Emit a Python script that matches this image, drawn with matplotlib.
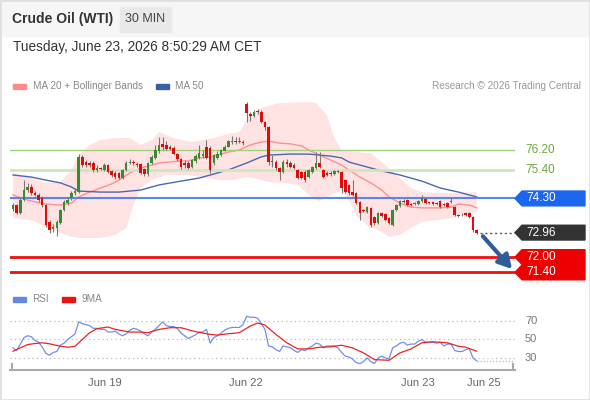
import numpy as np
import matplotlib
matplotlib.use('Agg')
import matplotlib.pyplot as plt
from matplotlib.patches import Rectangle, Polygon
from matplotlib import transforms

plt.rcParams['font.family'] = ['Liberation Sans', 'DejaVu Sans']

# 30 min candles, Crude Oil (WTI)
opens = [73.89, 74.04, 73.73, 74.24, 74.63, 74.75, 74.51, 74.44, 74.30, 74.04,
         73.38, 73.10, 73.14, 73.34, 73.85, 74.12, 74.30, 74.50, 74.55, 75.93,
         75.73, 75.68, 75.69, 75.42, 75.49, 75.42, 75.61, 75.38, 75.30, 75.30,
         75.10, 75.42, 75.69, 75.72, 75.66, 75.65, 75.45, 75.25, 75.69, 75.89,
         76.15, 76.44, 76.40, 76.30, 76.28, 76.04, 75.85, 75.70, 75.70, 75.55,
         75.75, 75.90, 75.95, 76.30, 76.28, 75.70, 75.90, 76.00, 76.18, 76.32,
         76.52, 76.55, 76.52, 76.50, 78.00, 77.60, 77.55, 77.72, 77.69, 77.30,
         77.10, 75.76, 75.73, 75.49, 75.34, 75.73, 75.68, 75.61, 75.42, 75.34,
         75.34, 75.14, 75.34, 75.49, 75.69, 75.42, 75.30, 75.30, 75.26, 75.36,
         75.34, 75.02, 74.83, 74.55, 74.51, 74.16, 73.85, 73.77, 73.93, 73.57,
         73.34, 73.73, 73.69, 73.53, 73.26, 73.85, 74.00, 74.20, 74.24, 74.08,
         74.08, 74.10, 74.20, 74.28, 74.14, 74.16, 74.12, 74.20, 74.08, 74.14,
         74.16, 73.96, 73.67, 73.67, 73.73, 73.73, 73.59, 73.06]
closes = [74.04, 73.73, 74.24, 74.63, 74.75, 74.51, 74.44, 74.24, 74.04, 73.26,
          73.06, 73.20, 73.38, 73.85, 74.16, 74.24, 74.51, 74.60, 75.93, 75.61,
          75.61, 75.62, 75.42, 75.50, 75.45, 75.61, 75.34, 75.22, 75.14, 75.10,
          75.42, 75.69, 75.73, 75.68, 75.60, 75.30, 75.25, 75.69, 75.93, 76.20,
          76.40, 76.30, 76.25, 76.25, 76.04, 75.85, 75.55, 75.60, 75.50, 75.81,
          75.95, 76.10, 76.05, 75.90, 75.42, 76.00, 76.05, 76.20, 76.32, 76.55,
          76.55, 76.52, 76.55, 76.46, 77.65, 77.55, 77.70, 77.68, 77.30, 77.10,
          75.73, 75.72, 75.49, 75.34, 75.73, 75.65, 75.55, 75.50, 75.10, 75.10,
          75.02, 75.42, 75.53, 75.69, 75.55, 75.14, 75.22, 75.25, 75.36, 75.34,
          74.71, 74.55, 74.51, 74.44, 74.12, 73.73, 73.80, 73.96, 73.26, 73.34,
          73.73, 73.63, 73.45, 73.34, 73.85, 74.04, 74.20, 74.18, 74.04, 74.06,
          74.14, 74.20, 74.32, 74.12, 74.12, 74.08, 74.10, 73.96, 74.06, 73.98,
          74.20, 73.65, 73.63, 73.64, 73.66, 73.59, 73.06, 72.96]
highs = [74.12, 74.10, 74.30, 75.02, 74.91, 74.85, 74.60, 74.50, 74.40, 74.10,
         73.45, 73.30, 73.45, 73.90, 74.24, 74.36, 74.60, 74.70, 76.05, 76.00,
         75.81, 75.75, 75.75, 75.60, 75.55, 75.70, 75.65, 75.42, 75.38, 75.35,
         75.45, 75.75, 75.85, 75.80, 75.72, 75.70, 75.50, 75.73, 76.00, 76.40,
         76.71, 76.71, 76.55, 76.40, 76.35, 76.10, 75.90, 75.80, 75.75, 75.85,
         76.05, 76.40, 76.20, 76.60, 76.35, 76.05, 76.15, 76.25, 76.40, 76.60,
         76.75, 76.70, 76.72, 76.60, 78.10, 77.70, 77.75, 77.80, 77.75, 77.35,
         77.15, 76.00, 75.80, 75.55, 75.80, 75.85, 75.75, 75.70, 75.45, 75.38,
         75.40, 75.46, 75.58, 76.12, 76.12, 75.45, 75.36, 75.36, 75.40, 75.42,
         75.38, 75.06, 74.88, 75.02, 74.55, 74.20, 73.90, 74.00, 73.96, 73.60,
         73.76, 73.78, 73.72, 73.56, 73.90, 74.08, 74.24, 74.28, 74.28, 74.12,
         74.18, 74.24, 74.44, 74.32, 74.18, 74.20, 74.16, 74.24, 74.12, 74.18,
         74.32, 74.00, 73.70, 73.72, 73.76, 73.76, 73.62, 73.10]
lows = [73.80, 73.70, 73.70, 74.20, 74.55, 74.45, 74.40, 74.15, 73.95, 73.20,
        72.95, 73.00, 72.83, 73.30, 73.80, 74.05, 74.25, 74.45, 74.50, 75.55,
        75.55, 75.55, 75.35, 75.35, 75.40, 75.38, 75.30, 75.15, 75.08, 75.05,
        75.05, 75.38, 75.65, 75.60, 75.55, 75.25, 75.18, 75.20, 75.65, 75.85,
        76.10, 76.20, 76.20, 76.20, 76.00, 75.78, 75.45, 75.50, 75.45, 75.50,
        75.70, 75.85, 75.90, 75.85, 75.28, 75.60, 75.85, 75.95, 76.15, 76.30,
        76.45, 76.45, 76.48, 76.40, 77.30, 77.35, 77.50, 77.60, 77.25, 77.00,
        75.60, 75.55, 75.40, 75.02, 75.30, 75.55, 75.50, 75.45, 75.05, 75.05,
        74.95, 75.10, 75.30, 75.45, 75.50, 75.10, 75.18, 75.20, 75.22, 75.30,
        74.51, 74.50, 74.45, 74.40, 74.08, 73.45, 73.75, 73.72, 73.20, 73.25,
        73.30, 73.58, 73.40, 73.30, 73.22, 73.80, 73.96, 74.14, 74.00, 74.00,
        74.04, 74.06, 74.16, 74.08, 74.08, 74.04, 74.06, 73.92, 74.02, 73.94,
        74.12, 73.60, 73.58, 73.60, 73.62, 73.55, 73.00, 72.90]

# moving averages and Bollinger bands, read at candle positions
ma20_idx = [0, 2, 5, 9, 13, 16, 18, 21, 24, 27, 29, 32, 35, 38, 40, 46, 48, 51, 54, 57, 59, 62,
            65, 68, 70, 73, 76, 79, 81, 84, 87, 90, 92, 95, 98, 101, 103, 106, 109, 112, 117,
            120, 122, 125, 127]
ma20 = [74.44, 74.32, 74.20, 74.08, 74.04, 74.12, 74.36, 74.55, 74.71, 74.87, 75.02, 75.30,
        75.49, 75.61, 75.69, 75.77, 75.77, 75.89, 75.93, 76.04, 76.12, 76.20, 76.40, 76.51,
        76.55, 76.47, 76.44, 76.36, 76.20, 76.00, 75.81, 75.61, 75.42, 75.14, 74.91, 74.63,
        74.36, 74.12, 73.96, 73.93, 73.93, 73.96, 74.08, 74.04, 73.93]
ma50_idx = [0, 5, 9, 13, 16, 18, 24, 29, 35, 40, 46, 51, 55, 59, 64, 68, 70, 76, 81, 87, 90,
            92, 95, 101, 106, 112, 117, 122, 127]
ma50 = [75.22, 75.14, 75.02, 74.91, 74.75, 74.59, 74.55, 74.55, 74.63, 74.83, 74.98, 75.10,
        75.26, 75.42, 75.69, 75.93, 76.00, 76.04, 76.04, 75.96, 75.89, 75.73, 75.61, 75.38,
        75.22, 74.98, 74.71, 74.55, 74.36]
bb_up_idx = [0, 5, 9, 13, 16, 18, 21, 24, 28, 32, 35, 38, 40, 44, 49, 55, 58, 62, 65, 68, 73,
             81, 83, 86, 88, 90, 94, 98, 101, 105, 109, 112, 116, 122, 127]
bb_up = [75.30, 75.10, 74.91, 74.95, 75.42, 76.00, 76.40, 76.59, 76.67, 76.67, 76.40, 76.59,
         76.91, 76.67, 76.51, 76.67, 76.79, 76.91, 77.57, 77.85, 78.04, 78.08, 78.04, 77.57,
         76.67, 76.20, 76.12, 76.08, 75.73, 75.22, 74.71, 74.55, 74.51, 74.51, 74.55]
bb_lo_idx = [0, 5, 10, 15, 18, 24, 28, 31, 33, 35, 38, 42, 48, 53, 57, 60, 64, 66, 70, 74,
             78, 82, 84, 87, 90, 92, 94, 97, 101, 103, 106, 109, 112, 116, 120, 123, 127]
bb_lo = [73.53, 73.45, 73.14, 72.83, 72.75, 72.75, 72.87, 73.14, 74.04, 74.71, 75.02, 75.22,
         75.22, 75.10, 75.02, 75.02, 75.14, 75.10, 74.95, 74.91, 74.83, 74.32, 74.20, 74.44,
         74.63, 74.24, 73.65, 73.26, 72.98, 72.79, 72.87, 73.14, 73.38, 73.45, 73.53, 73.65,
         73.77]

# RSI (per candle) and its 9 period MA
rsi = [41, 38, 45, 52, 54, 53, 49, 47, 42, 35, 33, 36, 37, 44, 46, 50, 53, 56, 69, 67,
       66, 65, 62, 62, 61, 61, 58, 58, 59, 56, 54, 56, 60, 62, 61, 59, 56, 54, 58, 61,
       65, 69, 65, 64, 64, 62, 57, 54, 51, 53, 55, 58, 58, 61, 46, 52, 54, 57, 60, 62,
       63, 63, 63, 66, 75, 74, 74, 73, 67, 61, 43, 42, 39, 37, 43, 42, 41, 38, 36, 39,
       38, 41, 43, 46, 45, 41, 43, 43, 43, 41, 36, 32, 31, 29, 25, 24, 26, 30, 26, 24,
       30, 32, 30, 29, 41, 43, 46, 47, 44, 45, 45, 48, 50, 47, 47, 47, 46, 47, 43, 45,
       45, 38, 37, 37, 39, 40, 30, 27]
rsi_ma_idx = [0, 2, 4, 6, 8, 10, 13, 15, 17, 19, 21, 23, 26, 28, 32, 35, 37, 40, 43, 46, 50,
              54, 56, 59, 62, 65, 67, 69, 72, 75, 78, 81, 84, 87, 90, 93, 96, 99, 103, 106,
              109, 112, 115, 119, 122, 124, 127]
rsi_ma = [37.3, 40.9, 44.5, 45.6, 46.4, 45.3, 42.7, 41.6, 42.7, 50.0, 57.3, 61.6, 63.5, 60.9,
          58.0, 58.0, 57.3, 60.9, 62.7, 62.7, 58.4, 55.5, 54.7, 56.2, 57.3, 64.5, 67.8, 65.6,
          55.5, 46.4, 39.8, 39.8, 41.6, 42.0, 43.8, 40.9, 35.5, 28.2, 27.5, 35.5, 39.8, 46.4,
          47.5, 46.4, 42.7, 41.6, 37.3]

levels_res = [76.20, 75.40]
pivot = 74.30
last_price = 72.96
levels_sup = [72.00, 71.40]
date_labels = ['Jun 19', 'Jun 22', 'Jun 23', 'Jun 25']
date_pos = [25.2, 63.8, 111.0, 129.0]

W, H = 590, 400
fig = plt.figure(figsize=(W / 100, H / 100), dpi=100)

def fx(px):
    return px / W

def fy(py):
    return 1 - py / H

# header
fig.patches.append(Rectangle((0, fy(36)), 1, 36 / H, transform=fig.transFigure,
                             color='#f6f6f6', zorder=0))
fig.patches.append(Rectangle((fx(120), fy(32)), 51 / W, 25 / H, transform=fig.transFigure,
                             color='#e9e9e9', zorder=1))
fig.text(fx(12), fy(19), 'Crude Oil (WTI)', fontsize=10, fontweight='bold', color='#333333',
         va='center')
fig.text(fx(145.5), fy(19), '30 MIN', fontsize=9, color='#444444', va='center', ha='center')
fig.text(fx(13), fy(47), 'Tuesday, June 23, 2026 8:50:29 AM CET', fontsize=9.8,
         color='#333333', va='center')

# legends
fig.patches.append(Rectangle((fx(13), fy(88.5)), 13 / W, 5 / H, transform=fig.transFigure,
                             color='#ff8a8a'))
fig.text(fx(33), fy(86), 'MA 20 + Bollinger Bands', fontsize=7.2, color='#888888', va='center')
fig.patches.append(Rectangle((fx(156), fy(88.5)), 13 / W, 5 / H, transform=fig.transFigure,
                             color='#3a5ea8'))
fig.text(fx(175), fy(86), 'MA 50', fontsize=7.2, color='#888888', va='center')
fig.text(fx(581), fy(86), 'Research \u00a9 2026 Trading Central', fontsize=7.2, color='#999999',
         va='center', ha='right')
fig.patches.append(Rectangle((fx(13), fy(301.5)), 13 / W, 5 / H, transform=fig.transFigure,
                             color='#6688dd'))
fig.text(fx(32), fy(299), 'RSI', fontsize=7.2, color='#888888', va='center')
fig.patches.append(Rectangle((fx(62), fy(301.5)), 13 / W, 5 / H, transform=fig.transFigure,
                             color='#ee1111'))
fig.text(fx(81), fy(299), '9MA', fontsize=7.2, color='#888888', va='center')

# main price panel
xl = (-0.82, 137.5)
ax = fig.add_axes([fx(10), fy(285), 505 / W, 190 / H])
ax.set_xlim(*xl)
ax.set_ylim(70.906, 78.357)
ax.axis('off')

x = np.arange(len(closes))
o = np.array(opens)
c = np.array(closes)

ax.fill(np.concatenate([bb_up_idx, bb_lo_idx[::-1]]), np.concatenate([bb_up, bb_lo[::-1]]),
        color='#ffe3e3', lw=0, zorder=1)
ax.plot(ma20_idx, ma20, color='#ff9090', lw=1, zorder=2)
ax.plot(ma50_idx, ma50, color='#4a68b0', lw=1, zorder=2)

ax.axhline(levels_res[0], color='#9fd07a', lw=1, zorder=3)
ax.axhline(levels_res[1], color='#cfe6bd', lw=2, zorder=3)
ax.axhline(pivot, color='#5a86f0', lw=1.5, zorder=3)
for lv in levels_sup:
    ax.axhline(lv, color='#ee1111', lw=2, zorder=3)

ax.vlines(x, lows, highs, color='#777777', lw=0.8, zorder=4)
up = c >= o
body_h = np.maximum(np.abs(c - o), 0.03)
ax.bar(x[up], body_h[up], bottom=np.minimum(o, c)[up], width=0.7, color='#3a8a2e', zorder=5)
ax.bar(x[~up], body_h[~up], bottom=np.minimum(o, c)[~up], width=0.7, color='#e00b0b', zorder=5)

ax.plot([x[-1] + 1, xl[1]], [last_price, last_price], ls=(0, (1.5, 2)), color='#555555', lw=1,
        zorder=3)
ax.annotate('', xy=(137.2, 71.45), xytext=(x[-1] + 1.2, 72.90),
            arrowprops=dict(arrowstyle='-|>,head_length=0.8,head_width=0.45',
                            color='#2f5d9c', lw=3), zorder=6)

# price labels on the right
tr = transforms.blended_transform_factory(fig.transFigure, ax.transData)
half = 0.29

def tag(price, face, txtcol):
    pts = [(fx(515), price), (fx(522), price + half), (fx(585), price + half),
           (fx(585), price - half), (fx(522), price - half)]
    ax.add_patch(Polygon(pts, closed=True, transform=tr, color=face, clip_on=False, zorder=7))
    ax.text(fx(526), price, '%.2f' % price, transform=tr, color=txtcol, fontsize=8.5,
            va='center', clip_on=False, zorder=8)

for lv in levels_res:
    ax.text(fx(525), lv, '%.2f' % lv, transform=tr, color='#6aaa3a', fontsize=8.5,
            va='center', clip_on=False)
tag(pivot, '#1a66ee', 'white')
tag(last_price, '#333333', 'white')
for lv in levels_sup:
    tag(lv, '#ee0000', 'white')

# RSI panel
ax2 = fig.add_axes([fx(10), fy(370), 505 / W, 62 / H])
ax2.set_xlim(*xl)
ax2.set_ylim(17.0, 84.0)
for g in [70, 50, 30]:
    ax2.axhline(g, color='#bbbbbb', lw=0.9, ls=(0, (1, 2.5)), zorder=1)
    ax2.text(fx(525), g, str(g), transform=transforms.blended_transform_factory(
        fig.transFigure, ax2.transData), fontsize=8, color='#777777', va='center')
ax2.plot(x, rsi, color='#7090e8', lw=0.9, zorder=3)
ax2.plot([x[-1], xl[1]], [rsi[-1], rsi[-1]], color='#9db4f0', lw=0.9, ls=(0, (1, 1.5)),
         zorder=2)
ax2.plot(rsi_ma_idx, rsi_ma, color='#ee2222', lw=0.9, zorder=4)
for s in ['top', 'right', 'left']:
    ax2.spines[s].set_visible(False)
ax2.spines['bottom'].set_color('#aaaaaa')
ax2.spines['bottom'].set_linewidth(1.5)
ax2.plot([0.004, 0.004], [0, 0.09], transform=ax2.transAxes, color='#aaaaaa', lw=1.5,
         clip_on=False)
ax2.plot([0.996, 0.996], [0, 0.09], transform=ax2.transAxes, color='#aaaaaa', lw=1.5,
         clip_on=False)
ax2.set_yticks([])
ax2.set_xticks(date_pos)
ax2.set_xticklabels(date_labels, fontsize=8, color='#666666')
ax2.tick_params(axis='x', length=0, pad=6)
ax2.patch.set_alpha(0)

# outer frame
fig.patches.append(Rectangle((0, 0), 1, 1, transform=fig.transFigure, fill=False,
                             edgecolor='#e0e0e0', lw=2))

fig.savefig('out.png', dpi=100)
